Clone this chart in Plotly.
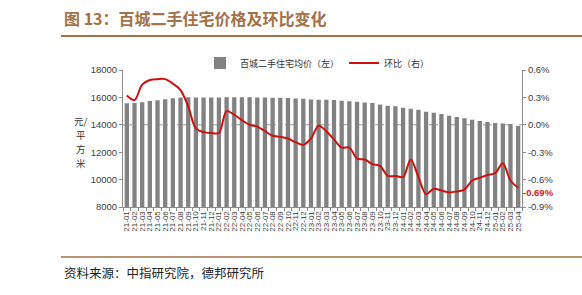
import plotly.graph_objects as go

months = ["21-01","21-02","21-03","21-04","21-05","21-06","21-07","21-08","21-09","21-10","21-11","21-12",
          "22-01","22-02","22-03","22-04","22-05","22-06","22-07","22-08","22-09","22-10","22-11","22-12",
          "23-01","23-02","23-03","23-04","23-05","23-06","23-07","23-08","23-09","23-10","23-11","23-12",
          "24-01","24-02","24-03","24-04","24-05","24-06","24-07","24-08","24-09","24-10","24-11","24-12",
          "25-01","25-02","25-03","25-04"]

price = [15570, 15600, 15650, 15740, 15790, 15860, 15930, 16000, 16005, 16000, 15995, 15990,
         15985, 16005, 16010, 16010, 16005, 16000, 16000, 15975, 15975, 15950, 15925, 15900,
         15855, 15830, 15830, 15805, 15755, 15710, 15685, 15635, 15585, 15490, 15390, 15345,
         15245, 15175, 15100, 14955, 14880, 14785, 14665, 14565, 14470, 14370, 14275, 14200,
         14130, 14100, 14055, 13910]

mom = [0.32, 0.27, 0.44, 0.49, 0.50, 0.50, 0.45, 0.38, 0.20, -0.04, -0.08, -0.09,
       -0.09, 0.15, 0.11, 0.05, 0.00, -0.02, -0.07, -0.12, -0.13, -0.15, -0.19, -0.22,
       -0.15, -0.01, -0.07, -0.16, -0.25, -0.25, -0.37, -0.38, -0.43, -0.45, -0.56, -0.56,
       -0.57, -0.38, -0.57, -0.76, -0.70, -0.72, -0.74, -0.73, -0.71, -0.61, -0.58, -0.55,
       -0.53, -0.42, -0.61, -0.69]

left_ticks = [8000, 10000, 12000, 14000, 16000, 18000]
right_ticks = [-0.9, -0.6, -0.3, 0.0, 0.3, 0.6]
unit_chars = ["元/", "平", "方", "米"]

W, H = 582, 295
L, R, T, B = 123, 60, 70, 88
pw, ph = W - L - R, H - T - B

def px(x):
    return (x - L) / pw

def py(y):
    return (H - B - y) / ph

FONT = "Liberation Sans, Arial, Noto Sans CJK SC, sans-serif"
CJK = "Noto Sans CJK SC, sans-serif"
BROWN = "#a3714a"

fig = go.Figure()
fig.add_trace(go.Bar(x=months, y=price, name="百城二手住宅均价（左）",
                     marker=dict(color="#828282", line=dict(width=0)), width=0.56,
                     yaxis="y"))
fig.add_trace(go.Scatter(x=months, y=mom, name="环比（右）", mode="lines",
                         line=dict(color="#cc1111", width=2, shape="spline", smoothing=0.9),
                         yaxis="y2"))

fig.update_layout(
    width=W, height=H,
    margin=dict(l=L, r=R, t=T, b=B),
    paper_bgcolor="white", plot_bgcolor="white",
    font=dict(family=FONT, size=9, color="#404040"),
    showlegend=True,
    legend=dict(orientation="h", x=px(200), y=py(63), xanchor="left", yanchor="middle",
                font=dict(family=CJK, size=9, color="#333333"),
                bgcolor="rgba(0,0,0,0)", itemwidth=30, tracegroupgap=0),
    xaxis=dict(type="category", range=[-0.5, len(months) - 0.5],
               tickmode="array", tickvals=months, ticktext=months,
               tickangle=-90, tickfont=dict(size=8, color="#404040"),
               showline=True, linecolor="#8c8c8c", linewidth=1,
               ticks="outside", ticklen=3, tickcolor="#8c8c8c", tickson="boundaries",
               showgrid=False, zeroline=False),
    yaxis=dict(range=[8000, 18000], tickvals=left_ticks, ticktext=[str(v) for v in left_ticks],
               showline=True, linecolor="#8c8c8c", linewidth=1,
               ticks="outside", ticklen=3, tickcolor="#8c8c8c",
               showgrid=False, zeroline=False, tickfont=dict(size=9.5, color="#404040")),
    yaxis2=dict(range=[-0.9, 0.6], tickvals=right_ticks,
                ticktext=[f"{v:.1f}%" for v in right_ticks],
                overlaying="y", side="right",
                showline=True, linecolor="#8c8c8c", linewidth=1,
                ticks="outside", ticklen=3, tickcolor="#8c8c8c",
                showgrid=False, zeroline=False, tickfont=dict(size=9.5, color="#404040")),
)

# dashed reference line at 0.0% / 14000
fig.add_shape(type="line", xref="paper", yref="y2", x0=0, x1=1, y0=0, y1=0,
              line=dict(color="#9a9a9a", width=1, dash="dash"), layer="below")

# title, rules, source
fig.add_annotation(text="<b>图 13：百城二手住宅价格及环比变化</b>", xref="paper", yref="paper",
                   x=px(62), y=py(18), xanchor="left", yanchor="middle", showarrow=False,
                   font=dict(family=CJK, size=16, color=BROWN))
fig.add_shape(type="line", xref="paper", yref="paper", x0=px(61), x1=px(582), y0=py(36), y1=py(36),
              line=dict(color=BROWN, width=2))
fig.add_shape(type="line", xref="paper", yref="paper", x0=px(61), x1=px(582), y0=py(257), y1=py(257),
              line=dict(color=BROWN, width=1.5))
fig.add_annotation(text="资料来源：中指研究院，德邦研究所", xref="paper", yref="paper",
                   x=px(62), y=py(272), xanchor="left", yanchor="middle", showarrow=False,
                   font=dict(family=CJK, size=12.5, color="#222222"))

# y-axis unit, stacked character by character
for k, ch in enumerate(unit_chars):
    fig.add_annotation(text=ch, xref="paper", yref="paper",
                       x=px(81), y=py(121 + 14 * k), xanchor="center", yanchor="middle",
                       showarrow=False, font=dict(family=CJK, size=9.5, color="#333333"))

# last value label
fig.add_annotation(text="<b>%.2f%%</b>" % mom[-1], x=months[-1], y=mom[-1], xref="x", yref="y2",
                   xanchor="left", yanchor="middle", showarrow=False, xshift=3, yshift=-5,
                   font=dict(family=FONT, size=9.5, color="#e02020"))

fig.write_html("out.html")
